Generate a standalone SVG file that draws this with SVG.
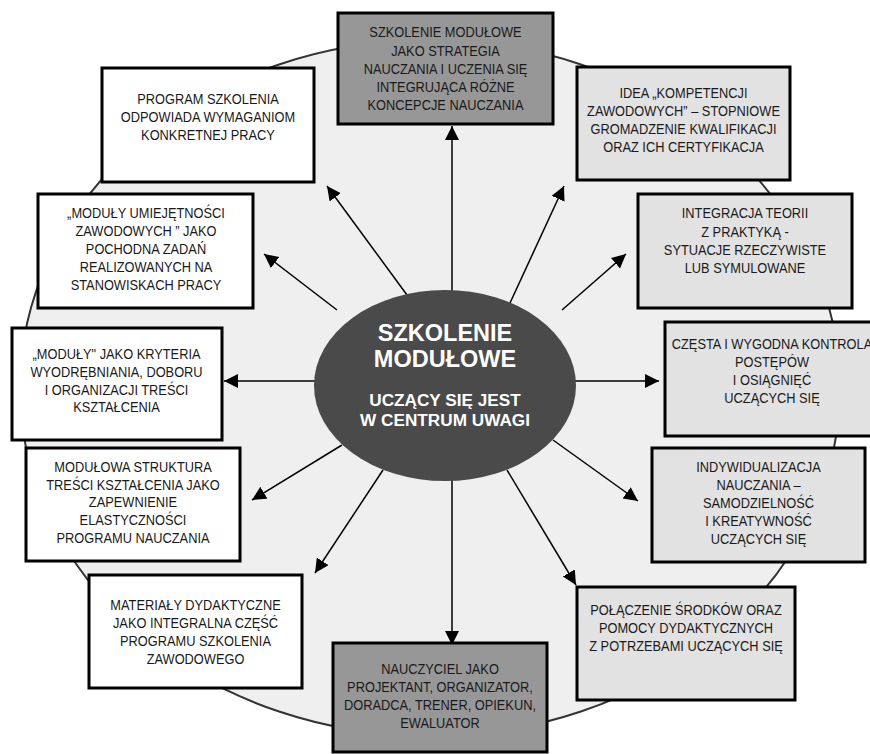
<svg xmlns="http://www.w3.org/2000/svg" width="870" height="754" viewBox="0 0 870 754">
  <defs>
    <style>
      .box { stroke: #000; stroke-width: 3; }
      .white { fill: #ffffff; }
      .light { fill: #e2e2e2; }
      .dark { fill: #979797; }
      .lbl { font-family: "Liberation Sans", Arial, sans-serif; font-size: 15px; fill: #1a1a1a; text-anchor: middle; }
      .hub { font-family: "Liberation Sans", Arial, sans-serif; font-weight: bold; fill: #ffffff; text-anchor: middle; }
      .conn { stroke: #000; stroke-width: 1.5; fill: none; marker-end: url(#tip); }
    </style>
    <marker id="tip" markerUnits="userSpaceOnUse" markerWidth="15" markerHeight="15" refX="14" refY="7" orient="auto">
      <path d="M0,0 L14,7 L0,14 Z" fill="#000"/>
    </marker>
  </defs>

  <rect width="870" height="754" fill="#ffffff"/>

  <!-- background ring -->
  <ellipse id="ring" cx="430" cy="388" rx="410" ry="348" fill="#efefef" stroke="#333" stroke-width="2"/>

  <!-- connectors radiating from the hub -->
  <g id="connectors">
    <line class="conn" x1="452" y1="300" x2="452" y2="126"/>
    <line class="conn" x1="510" y1="303" x2="564" y2="186"/>
    <line class="conn" x1="562" y1="310" x2="626" y2="254"/>
    <line class="conn" x1="570" y1="381" x2="659" y2="381"/>
    <line class="conn" x1="553" y1="440" x2="638" y2="501"/>
    <line class="conn" x1="507" y1="470" x2="576" y2="585"/>
    <line class="conn" x1="452" y1="470" x2="452" y2="645"/>
    <line class="conn" x1="383" y1="470" x2="315" y2="573"/>
    <line class="conn" x1="342" y1="445" x2="252" y2="500"/>
    <line class="conn" x1="320" y1="381" x2="224" y2="381"/>
    <line class="conn" x1="337" y1="310" x2="264" y2="254"/>
    <line class="conn" x1="407" y1="295" x2="327" y2="186"/>
  </g>

  <!-- hub -->
  <g id="hub">
    <ellipse cx="445" cy="385.5" rx="131" ry="95.5" fill="#4a4a4a"/>
    <text class="hub" font-size="23.5" x="445" y="341">SZKOLENIE</text>
    <text class="hub" font-size="23.5" x="445" y="367">MODUŁOWE</text>
    <text class="hub" font-size="17.2" x="445" y="406">UCZĄCY SIĘ JEST</text>
    <text class="hub" font-size="17.2" x="445" y="426">W CENTRUM UWAGI</text>
  </g>

  <g id="n-strategia">
    <rect class="box dark" x="338" y="13" width="215" height="111"/>
    <g transform="translate(445.5 0) scale(0.855 1)">
      <text class="lbl" x="0" y="37.5">SZKOLENIE MODUŁOWE</text>
      <text class="lbl" x="0" y="55.6">JAKO STRATEGIA</text>
      <text class="lbl" x="0" y="73.7">NAUCZANIA I UCZENIA SIĘ</text>
      <text class="lbl" x="0" y="91.8">INTEGRUJĄCA RÓŻNE</text>
      <text class="lbl" x="0" y="110">KONCEPCJE NAUCZANIA</text>
    </g>
  </g>

  <g id="n-kompetencje">
    <rect class="box light" x="577" y="67" width="213" height="113"/>
    <g transform="translate(683.5 0) scale(0.855 1)">
      <text class="lbl" x="0" y="97.7">IDEA „KOMPETENCJI</text>
      <text class="lbl" x="0" y="115.9">ZAWODOWYCH” – STOPNIOWE</text>
      <text class="lbl" x="0" y="134.1">GROMADZENIE KWALIFIKACJI</text>
      <text class="lbl" x="0" y="152.3">ORAZ ICH CERTYFIKACJA</text>
    </g>
  </g>

  <g id="n-integracja">
    <rect class="box light" x="638" y="194" width="214" height="114"/>
    <g transform="translate(745 0) scale(0.855 1)">
      <text class="lbl" x="0" y="218.3">INTEGRACJA TEORII</text>
      <text class="lbl" x="0" y="236.6">Z PRAKTYKĄ -</text>
      <text class="lbl" x="0" y="254.9">SYTUACJE RZECZYWISTE</text>
      <text class="lbl" x="0" y="273.2">LUB SYMULOWANE</text>
    </g>
  </g>

  <g id="n-kontrola">
    <rect class="box light" x="665" y="322" width="214" height="114"/>
    <g transform="translate(772 0) scale(0.855 1)">
      <text class="lbl" x="0" y="349.3">CZĘSTA I WYGODNA KONTROLA</text>
      <text class="lbl" x="0" y="367.3">POSTĘPÓW</text>
      <text class="lbl" x="0" y="385.3">I OSIĄGNIĘĆ</text>
      <text class="lbl" x="0" y="403.3">UCZĄCYCH SIĘ</text>
    </g>
  </g>

  <g id="n-indywidualizacja">
    <rect class="box light" x="652" y="448" width="213" height="114"/>
    <g transform="translate(758.5 0) scale(0.855 1)">
      <text class="lbl" x="0" y="471.7">INDYWIDUALIZACJA</text>
      <text class="lbl" x="0" y="489.8">NAUCZANIA –</text>
      <text class="lbl" x="0" y="507.9">SAMODZIELNOŚĆ</text>
      <text class="lbl" x="0" y="526">I KREATYWNOŚĆ</text>
      <text class="lbl" x="0" y="544">UCZĄCYCH SIĘ</text>
    </g>
  </g>

  <g id="n-srodki">
    <rect class="box light" x="577" y="587" width="218" height="113"/>
    <g transform="translate(686 0) scale(0.855 1)">
      <text class="lbl" x="0" y="615">POŁĄCZENIE ŚRODKÓW ORAZ</text>
      <text class="lbl" x="0" y="633">POMOCY DYDAKTYCZNYCH</text>
      <text class="lbl" x="0" y="651">Z POTRZEBAMI UCZĄCYCH SIĘ</text>
    </g>
  </g>

  <g id="n-nauczyciel">
    <rect class="box dark" x="333" y="643" width="214" height="109"/>
    <g transform="translate(440 0) scale(0.855 1)">
      <text class="lbl" x="0" y="674">NAUCZYCIEL JAKO</text>
      <text class="lbl" x="0" y="692.2">PROJEKTANT, ORGANIZATOR,</text>
      <text class="lbl" x="0" y="710.4">DORADCA, TRENER, OPIEKUN,</text>
      <text class="lbl" x="0" y="728.5">EWALUATOR</text>
    </g>
  </g>

  <g id="n-materialy">
    <rect class="box white" x="89" y="575" width="213" height="113"/>
    <g transform="translate(195.5 0) scale(0.855 1)">
      <text class="lbl" x="0" y="610">MATERIAŁY DYDAKTYCZNE</text>
      <text class="lbl" x="0" y="628.1">JAKO INTEGRALNA CZĘŚĆ</text>
      <text class="lbl" x="0" y="646.2">PROGRAMU SZKOLENIA</text>
      <text class="lbl" x="0" y="664.3">ZAWODOWEGO</text>
    </g>
  </g>

  <g id="n-struktura">
    <rect class="box white" x="26" y="448" width="214" height="113"/>
    <g transform="translate(133 0) scale(0.855 1)">
      <text class="lbl" x="0" y="471.7">MODUŁOWA STRUKTURA</text>
      <text class="lbl" x="0" y="489.6">TREŚCI KSZTAŁCENIA JAKO</text>
      <text class="lbl" x="0" y="507.5">ZAPEWNIENIE</text>
      <text class="lbl" x="0" y="525.4">ELASTYCZNOŚCI</text>
      <text class="lbl" x="0" y="543.3">PROGRAMU NAUCZANIA</text>
    </g>
  </g>

  <g id="n-kryteria">
    <rect class="box white" x="12" y="328" width="210" height="112"/>
    <g transform="translate(116.5 0) scale(0.855 1)">
      <text class="lbl" x="0" y="359.3">„MODUŁY" JAKO KRYTERIA</text>
      <text class="lbl" x="0" y="377">WYODRĘBNIANIA, DOBORU</text>
      <text class="lbl" x="0" y="394.7">I ORGANIZACJI TREŚCI</text>
      <text class="lbl" x="0" y="412.4">KSZTAŁCENIA</text>
    </g>
  </g>

  <g id="n-umiejetnosci">
    <rect class="box white" x="38" y="194" width="215" height="114"/>
    <g transform="translate(146 0) scale(0.855 1)">
      <text class="lbl" x="0" y="218.3">„MODUŁY UMIEJĘTNOŚCI</text>
      <text class="lbl" x="0" y="236.2">ZAWODOWYCH ” JAKO</text>
      <text class="lbl" x="0" y="254.1">POCHODNA ZADAŃ</text>
      <text class="lbl" x="0" y="272">REALIZOWANYCH NA</text>
      <text class="lbl" x="0" y="290">STANOWISKACH PRACY</text>
    </g>
  </g>

  <g id="n-program">
    <rect class="box white" x="102" y="68" width="212" height="114"/>
    <g transform="translate(208 0) scale(0.855 1)">
      <text class="lbl" x="0" y="104.3">PROGRAM SZKOLENIA</text>
      <text class="lbl" x="0" y="122.1">ODPOWIADA WYMAGANIOM</text>
      <text class="lbl" x="0" y="140">KONKRETNEJ PRACY</text>
    </g>
  </g>
</svg>
